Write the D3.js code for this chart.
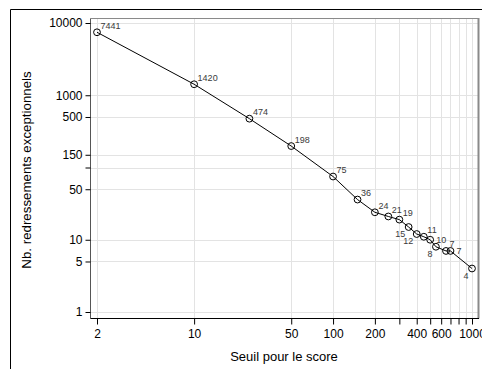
<!DOCTYPE html>
<html><head><meta charset="utf-8">
<script src="https://cdn.jsdelivr.net/npm/d3@7"></script>
<style>html,body{margin:0;padding:0;background:#fff;}svg{display:block;font-family:"Liberation Sans",Arial,sans-serif;}</style>
</head><body>
<svg id="c" width="482" height="369"></svg>
<script>
const thresholds = [2,10,25,50,100,150,200,250,300,350,400,450,500,550,650,700,1000];
const counts = [7441,1420,474,198,75,36,24,21,19,15,12,11,10,8,7,7,4];
const labelPos = ["ne","ne","ne","ne","ne","ne","ne","ne","ne","sw","sw","ne","e","sw","ne","e","sw"];
const xTicks = [2,10,50,100,200,300,400,500,600,700,800,900,1000];
const xTickLabels = ["2","10","50","100","200","","400","","600","","","","1000"];
const yTicks = [1,5,10,50,100,150,500,1000,10000];
const yTickLabels = ["1","5","10","50","","150","500","1000","10000"];
const xTitle = "Seuil pour le score";
const yTitle = "Nb. redressements exceptionnels";

const svg = d3.select("#c");
const L = 90.5, R = 478, T = 18.5, B = 318.5;
const x = d3.scaleLog().domain([2,1000]).range([97,472]);
const y = d3.scaleLog().domain([1,10000]).range([312,23]);

// outer frame (top and left edges)
svg.append("line").attr("x1",10.5).attr("x2",482).attr("y1",9.5).attr("y2",9.5).attr("stroke","#000");
svg.append("line").attr("x1",10.5).attr("x2",10.5).attr("y1",9.5).attr("y2",369).attr("stroke","#000");

// gridlines
const g = svg.append("g");
g.selectAll(".vg").data(xTicks).join("line")
  .attr("x1",d=>Math.round(x(d))+0.5).attr("x2",d=>Math.round(x(d))+0.5)
  .attr("y1",T).attr("y2",B).attr("stroke","#e3e3e3");
g.selectAll(".hg").data(yTicks).join("line")
  .attr("y1",d=>Math.round(y(d))+0.5).attr("y2",d=>Math.round(y(d))+0.5)
  .attr("x1",L).attr("x2",R).attr("stroke","#e3e3e3");

// plot borders
svg.append("line").attr("x1",L).attr("x2",R).attr("y1",T).attr("y2",T).attr("stroke","#8a8a8a");
svg.append("line").attr("x1",R+0.5).attr("x2",R+0.5).attr("y1",T-0.5).attr("y2",B).attr("stroke","#8a8a8a").attr("stroke-width",2);

// y axis
const yAxis = d3.axisLeft(y).tickValues(yTicks).tickFormat((d,i)=>yTickLabels[i]).tickSize(5).tickPadding(3);
const ya = svg.append("g").attr("transform",`translate(${L},0)`).call(yAxis);
ya.select(".domain").attr("d",`M0,${T}V${B}`).attr("stroke","#555");
ya.selectAll("text").attr("font-size",12).attr("fill","#000").attr("font-family","Liberation Sans, Arial, sans-serif");
ya.selectAll(".tick line").attr("stroke","#000");

// x axis
const xAxis = d3.axisBottom(x).tickValues(xTicks).tickFormat((d,i)=>xTickLabels[i]).tickSize(6).tickPadding(5);
const xa = svg.append("g").attr("transform",`translate(0,${B})`).call(xAxis);
xa.select(".domain").attr("d",`M${L},0H${R+1}`).attr("stroke","#000");
xa.selectAll("text").attr("font-size",12).attr("fill","#000").attr("font-family","Liberation Sans, Arial, sans-serif");
xa.selectAll(".tick line").attr("stroke","#000");

// titles
svg.append("text").attr("x",284).attr("y",361).attr("text-anchor","middle").attr("font-size",13).text(xTitle);
svg.append("text").attr("transform","translate(31,170) rotate(-90)").attr("text-anchor","middle").attr("font-size",13.3).text(yTitle);

// line and markers
const pts = thresholds.map((t,i)=>({t, c:counts[i], p:labelPos[i]}));
svg.append("path").datum(pts)
  .attr("d",d3.line().x(d=>x(d.t)).y(d=>y(d.c)))
  .attr("fill","none").attr("stroke","#000").attr("stroke-width",1);
svg.selectAll(".m").data(pts).join("circle")
  .attr("cx",d=>x(d.t)).attr("cy",d=>y(d.c)).attr("r",3.4)
  .attr("fill","none").attr("stroke","#000").attr("stroke-width",1);

// marker labels
const off = {ne:[3.5,-6.5,"start"], sw:[-3.5,7,"end"], e:[6,0.5,"start"]};
svg.selectAll(".ml").data(pts).join("text")
  .attr("x",d=>x(d.t)+off[d.p][0]).attr("y",d=>y(d.c)+off[d.p][1])
  .attr("text-anchor",d=>off[d.p][2]).attr("dominant-baseline","central")
  .attr("font-size",9).attr("fill","#3a3a3a").text(d=>d.c);
</script>
</body></html>
